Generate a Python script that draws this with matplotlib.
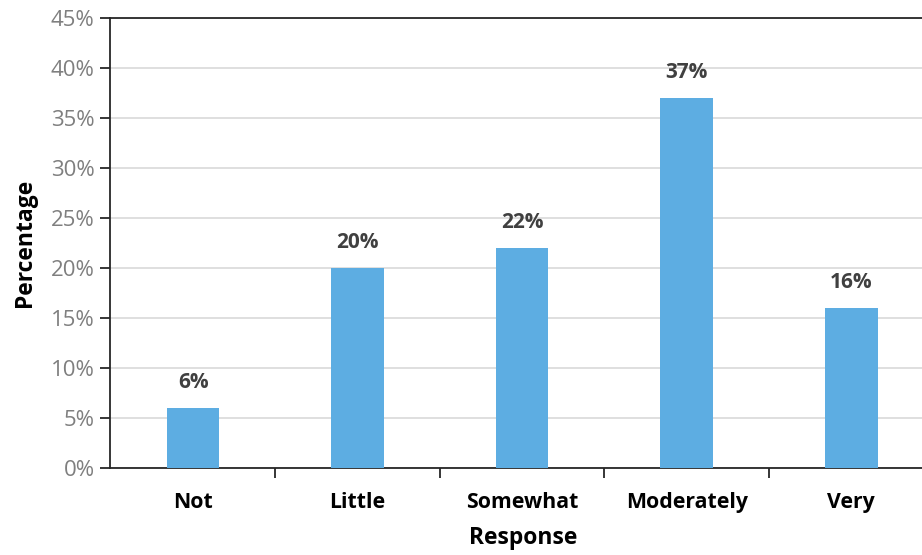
import numpy as np
import matplotlib.pyplot as plt
from matplotlib.ticker import FuncFormatter

plt.rcParams['font.family'] = ['Open Sans', 'DejaVu Sans']

categories = ['Not', 'Little', 'Somewhat', 'Moderately', 'Very']
values = [6, 20, 22, 37, 16]
yticks = np.arange(0, 50, 5)

fig = plt.figure(figsize=(9.22, 5.55), dpi=100)
ax = fig.add_axes([0.1193, 0.1568, 0.8807, 0.8108])

x = np.arange(len(categories))
ax.bar(x, values, width=0.32, color='#5dade2', zorder=3)

for xi, v in zip(x, values):
    ax.annotate(f'{v}%', (xi, v), xytext=(0, 11), textcoords='offset points',
                ha='center', va='bottom', fontsize=15, fontweight='bold',
                color='#404040')

ax.set_xlim(-0.505, 4.43)
ax.set_ylim(0, 45)
ax.set_yticks(yticks)
ax.yaxis.set_major_formatter(FuncFormatter(lambda v, p: f'{v:.0f}%'))
ax.grid(axis='y', color='#d9d9d9', linewidth=1.2, zorder=0)

ax.set_xticks(x)
ax.set_xticklabels(categories, fontsize=15.3, fontweight='bold')
ax.tick_params(axis='x', which='major', length=0, pad=17.5)
ax.set_xticks(np.arange(0.5, 4.5, 1), minor=True)
ax.tick_params(axis='x', which='minor', length=7, width=1.3, color='#262626')
ax.tick_params(axis='y', length=7, width=1.3, color='#262626',
               labelsize=16, labelcolor='#7f7f7f', pad=4)

for s in ['left', 'bottom', 'top']:
    ax.spines[s].set_color('#262626')
    ax.spines[s].set_linewidth(1.3)
ax.spines['right'].set_visible(False)

ax.set_xlabel('Response', fontsize=16.5, fontweight='bold')
ax.xaxis.set_label_coords(0.5085, -0.128)
ax.set_ylabel('Percentage', fontsize=16.5, fontweight='bold', labelpad=10)

fig.savefig('out.png', dpi=100)
